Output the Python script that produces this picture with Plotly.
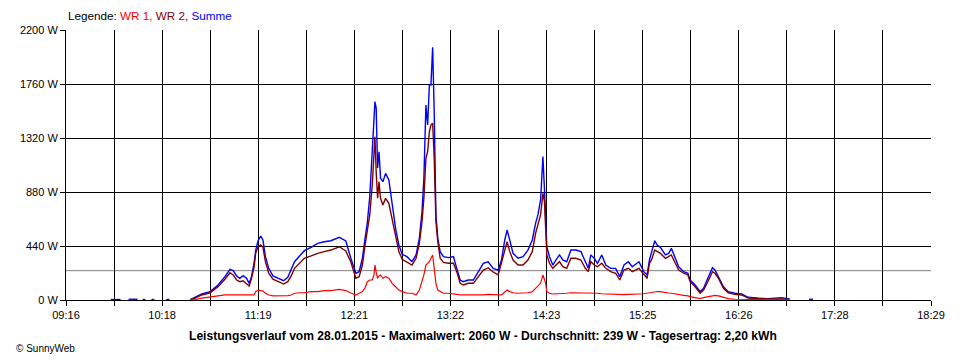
import plotly.graph_objects as go

# ---- data ----
times = [
    "09:44:36", "09:50:54", "09:52:48", "09:56:00", "10:01:42", "10:03:36", "10:04:54", "10:06:48",
    "10:08:42", "10:10:36", "10:12:30", "10:14:24", "10:20:06", "10:22:06", "10:24:00",
    "10:35:24", "10:38:36", "10:42:48", "10:48:06", "10:53:12", "10:57:36", "11:00:48", "11:02:54",
    "11:05:06", "11:07:06", "11:09:12", "11:11:24", "11:13:06", "11:14:36", "11:16:12", "11:17:18",
    "11:18:48", "11:20:30", "11:21:54", "11:23:30", "11:25:36", "11:28:18", "11:31:30", "11:35:06",
    "11:37:48", "11:40:00", "11:42:06", "11:45:18", "11:48:24", "11:52:42", "11:56:54", "12:01:06",
    "12:05:24", "12:10:42", "12:14:54", "12:18:06", "12:21:18", "12:23:24", "12:25:30", "12:27:12",
    "12:28:36", "12:30:12", "12:31:48", "12:32:54", "12:33:30", "12:34:18", "12:35:12", "12:36:06",
    "12:37:06", "12:38:36", "12:40:18", "12:42:24", "12:44:30", "12:46:42", "12:48:48", "12:50:54",
    "12:54:00", "12:57:12", "12:59:48", "13:01:54", "13:03:36", "13:04:48", "13:06:06", "13:07:12",
    "13:08:18", "13:09:18", "13:10:24", "13:11:24", "13:12:30", "13:13:42", "13:15:12", "13:17:18",
    "13:20:30", "13:23:42", "13:25:48", "13:28:00", "13:30:00", "13:33:12", "13:36:24", "13:39:36",
    "13:42:48", "13:45:54", "13:49:06", "13:52:18", "13:54:24", "13:56:30", "13:58:00", "13:59:42",
    "14:01:48", "14:05:00", "14:08:12", "14:11:18", "14:14:06", "14:16:12", "14:17:42", "14:19:24",
    "14:20:54", "14:21:54", "14:22:36", "14:23:24", "14:25:06", "14:27:12", "14:29:18", "14:31:30",
    "14:33:36", "14:36:06", "14:38:48", "14:42:00", "14:45:12", "14:48:00", "14:49:54", "14:51:30",
    "14:53:42", "14:55:48", "14:58:30", "15:01:06", "15:04:12", "15:07:24", "15:10:00", "15:12:42",
    "15:15:30", "15:18:00", "15:22:18", "15:25:24", "15:27:30", "15:29:00", "15:30:18", "15:32:24",
    "15:33:54", "15:36:00", "15:39:12", "15:41:18", "15:43:00", "15:45:06", "15:47:42", "15:50:54",
    "15:53:36", "15:55:00", "15:58:12", "16:01:24", "16:03:36", "16:06:18", "16:09:18", "16:10:54",
    "16:13:06", "16:16:18", "16:19:24", "16:23:36", "16:27:54", "16:32:06", "16:38:30", "16:44:48",
    "16:53:18", "16:58:36", "17:02:48", "17:11:06", "17:13:36",
]

summe = [
    4, 4, None, 6, 6, None, 4, 4,
    None, 4, 4, None, 4, 4, None,
    4, 22, 49, 68, 122, 190, 250, 239,
    196, 177, 198, 177, 136, 190, 299, 407,
    483, 521, 489, 353, 258, 196, 177, 157,
    185, 244, 312, 359, 402, 429, 462, 475,
    483, 511, 481, 340, 218, 231, 340, 503,
    625, 842, 1181, 1426, 1616, 1564, 1076, 1208,
    992, 964, 1032, 978, 774, 584, 448, 372,
    353, 312, 367, 503, 719, 992, 1589, 1426,
    1752, 1752, 2060, 1534, 693, 503, 394, 353,
    345, 353, 258, 163, 149, 163, 163, 231,
    299, 312, 258, 244, 326, 489, 570, 489,
    380, 340, 353, 407, 489, 625, 693, 815,
    1168, 896, 679, 434, 353, 285, 326, 367,
    326, 312, 407, 407, 394, 312, 258, 367,
    340, 299, 367, 285, 258, 258, 190, 285,
    312, 271, 312, 231, 204, 326, 380, 483,
    448, 429, 367, 380, 421, 353, 271, 231,
    218, 163, 122, 68, 95, 177, 263, 244,
    190, 108, 68, 55, 49, 22, 14, 11,
    19, 8, None, 6, 6,
]

wr2 = [
    None, None, None, None, None, None, None, None,
    None, None, None, None, None, None, None,
    2, 16, 41, 59, 109, 169, 222, 204,
    163, 149, 157, 136, 114, 177, 266, 383,
    434, 448, 429, 312, 218, 169, 149, 130,
    149, 196, 258, 299, 340, 359, 380, 394,
    407, 434, 399, 310, 177, 190, 285, 448,
    557, 693, 937, 1208, 1331, 1045, 829, 964,
    829, 774, 829, 788, 666, 516, 394, 332,
    312, 285, 340, 462, 638, 829, 1155, 1208,
    1371, 1426, 1440, 1155, 638, 475, 340, 307,
    299, 299, 231, 136, 122, 136, 136, 190,
    244, 263, 228, 204, 299, 407, 475, 394,
    326, 285, 285, 326, 394, 543, 625, 693,
    869, 801, 597, 367, 299, 258, 285, 312,
    271, 258, 340, 340, 326, 258, 231, 312,
    285, 271, 299, 258, 231, 218, 163, 244,
    258, 231, 258, 204, 177, 299, 326, 407,
    394, 380, 340, 353, 367, 312, 244, 218,
    204, 149, 108, 55, 81, 149, 231, 218,
    177, 95, 59, 46, 41, 16, 11, 8,
    8, 4, None, None, None,
]

wr1 = [
    None, None, None, None, None, None, None, None,
    None, None, None, None, None, None, None,
    2, 4, 15, 27, 33, 41, 41, 41,
    41, 41, 41, 41, 41, 41, 41, 68,
    81, 76, 73, 55, 41, 33, 33, 33,
    35, 41, 55, 59, 59, 68, 68, 76,
    76, 86, 77, 57, 41, 55, 68, 98,
    149, 163, 163, 204, 285, 228, 177, 196,
    204, 177, 190, 177, 136, 108, 81, 68,
    55, 55, 41, 81, 149, 204, 285, 299,
    312, 340, 367, 258, 136, 81, 68, 55,
    55, 46, 46, 41, 41, 35, 35, 41,
    41, 46, 41, 41, 41, 68, 81, 68,
    59, 55, 55, 59, 68, 95, 122, 136,
    204, 163, 139, 68, 55, 49, 49, 49,
    55, 55, 59, 59, 59, 57, 55, 55,
    55, 55, 51, 49, 49, 46, 41, 43,
    46, 49, 49, 51, 55, 57, 59, 68,
    69, 68, 59, 57, 55, 49, 41, 37,
    33, 27, 20, 11, 19, 27, 38, 37,
    33, 22, 11, 6, 6, 6, 2, 2,
    2, 2, None, None, None,
]

average_w = 239
y_ticks = [0, 440, 880, 1320, 1760, 2200]
y_labels = ["0 W", "440 W", "880 W", "1320 W", "1760 W", "2200 W"]
x_labels = ["09:16", "10:18", "11:19", "12:21", "13:22", "14:23", "15:25", "16:26", "17:28", "18:29"]
x_start, x_end = "09:16", "18:29"
title_text = ("Leistungsverlauf vom 28.01.2015 - Maximalwert: 2060 W - Durchschnitt: 239 W"
              " - Tagesertrag: 2,20 kWh")


def to_min(s):
    parts = [int(p) for p in s.split(":")]
    while len(parts) < 3:
        parts.append(0)
    return parts[0] * 60 + parts[1] + parts[2] / 60.0


tmin = [to_min(t) for t in times]
x0, x1 = to_min(x_start), to_min(x_end)
n_grid = 2 * (len(x_labels) - 1)
tickvals = [x0 + i * (x1 - x0) / n_grid for i in range(n_grid + 1)]
ticktext = [x_labels[i // 2] if i % 2 == 0 else "" for i in range(n_grid + 1)]

FONT = "Liberation Sans, Arial, sans-serif"

fig = go.Figure()
fig.add_trace(go.Scatter(x=tmin, y=summe, mode="lines", name="Summe",
                         line=dict(color="#0000ff", width=1.4), hoverinfo="skip"))
fig.add_trace(go.Scatter(x=tmin, y=wr2, mode="lines", name="WR 2",
                         line=dict(color="#800000", width=1.4), hoverinfo="skip"))
fig.add_trace(go.Scatter(x=tmin, y=wr1, mode="lines", name="WR 1",
                         line=dict(color="#ff0000", width=1.2), hoverinfo="skip"))

fig.add_shape(type="line", xref="x", yref="y", x0=x0, x1=x1, y0=average_w, y1=average_w,
              line=dict(color="#808080", width=1), layer="below")

# the page body has an 8px margin, so the figure is 952x352 and offset by 8px
fig.update_layout(
    width=952, height=352,
    margin=dict(l=52, r=29, t=22, b=60),
    paper_bgcolor="white", plot_bgcolor="white",
    showlegend=False,
    font=dict(family=FONT, size=11, color="black"),
)
fig.update_xaxes(
    range=[x0, x1], tickvals=tickvals, ticktext=ticktext,
    showgrid=True, gridcolor="black", gridwidth=1,
    showline=True, linecolor="black", linewidth=1,
    ticks="outside", ticklen=5, tickcolor="black", tickwidth=1,
    tickfont=dict(family=FONT, size=11, color="black"),
    zeroline=False, fixedrange=True,
)
fig.update_yaxes(
    range=[0, 2200], tickvals=y_ticks, ticktext=y_labels,
    showgrid=True, gridcolor="black", gridwidth=1,
    showline=True, linecolor="black", linewidth=1,
    ticks="outside", ticklen=5, tickcolor="black", tickwidth=1,
    tickfont=dict(family=FONT, size=11, color="black"),
    zeroline=False, fixedrange=True,
)

legend_html = ('Legende: <span style="color:#ff0000">WR 1,</span> '
               '<span style="color:#800000">WR 2,</span> '
               '<span style="color:#0000ff">Summe</span>')
fig.add_annotation(text=legend_html, xref="paper", yref="paper", x=0, y=1.052,
                   xanchor="left", yanchor="middle", showarrow=False,
                   font=dict(family=FONT, size=11.7, color="black"))
fig.add_annotation(text="<b>" + title_text + "</b>", xref="paper", yref="paper",
                   x=(480 - 60) / 871, y=-0.133, xanchor="center", yanchor="middle",
                   showarrow=False, font=dict(family=FONT, size=12.1, color="black"))
fig.add_annotation(text="© SunnyWeb", xref="paper", yref="paper",
                   x=(8 - 60) / 871, y=-0.178, xanchor="left", yanchor="middle",
                   showarrow=False, font=dict(family=FONT, size=10, color="black"))

fig.write_html("out.html")
